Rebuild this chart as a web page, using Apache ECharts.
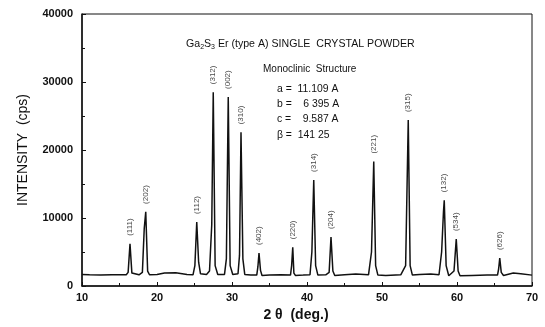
<!DOCTYPE html>
<html>
<head>
<meta charset="utf-8">
<script src="https://cdn.jsdelivr.net/npm/echarts@6/dist/echarts.min.js"></script>
<style>
  html, body { margin: 0; padding: 0; background: #fff; }
  #chart { width: 545px; height: 327px; }
</style>
</head>
<body>
<div id="chart"></div>
<script>
// scan profile (2theta in deg, intensity in cps)
var twoTheta = [10, 11, 12.5, 14, 15.9, 16.15, 16.4, 16.65, 16.9, 17.6, 18.05, 18.3, 18.5, 18.75, 19.0,
  20, 21, 22.5, 24, 24.8, 25.05, 25.3, 25.55, 25.8, 26.6, 27.0, 27.3, 27.5, 27.75, 28.1,
  29.0, 29.25, 29.5, 29.75, 30.1, 30.8, 31.0, 31.2, 31.45, 31.7, 32.5, 33.3, 33.45, 33.6, 33.8, 34.0,
  35, 36.5, 37.8, 37.95, 38.1, 38.25, 38.45, 39.5, 40.4, 40.65, 40.9, 41.15, 41.45, 42.5, 42.95, 43.2, 43.45, 43.7,
  45, 46.5, 48.2, 48.6, 48.9, 49.15, 49.45, 50.5, 52.5, 53.15, 53.5, 53.75, 54.05, 55, 56.5,
  57.6, 57.95, 58.2, 58.3, 58.55, 58.9, 59.6, 59.9, 60.15, 60.4, 62, 64, 65.4, 65.55, 65.7, 65.9, 66.2, 67.5, 68.5, 70];
var intensity = [1700, 1650, 1600, 1650, 1650, 2000, 6200, 1900, 1650, 1650, 2000, 8500, 10900, 2200, 1650,
  1700, 1900, 1950, 1700, 1650, 3000, 9400, 3500, 1800, 1700, 2200, 9000, 28500, 3000, 1700,
  1700, 4000, 27800, 3000, 1700, 1800, 4500, 22600, 4000, 1700, 1600, 1600, 2800, 4850, 2300, 1550,
  1600, 1650, 1600, 3000, 5700, 1900, 1550, 1600, 1650, 5000, 15600, 3000, 1600, 1650, 2000, 7200, 2200, 1550,
  1650, 1750, 1650, 5000, 18300, 3000, 1600, 1550, 1650, 3000, 24400, 3000, 1600, 1700, 1750,
  1650, 5000, 11000, 12600, 3000, 1500, 2200, 6900, 2200, 1500, 1550, 1600, 1600, 2500, 4100, 2000, 1550, 1900, 1800, 1600];

// indexed reflections
var peakPos = [16.4, 18.5, 25.3, 27.5, 29.5, 31.2, 33.6, 38.1, 40.9, 43.2, 48.9, 53.5, 58.3, 59.9, 65.7];
var peakHeight = [6200, 10900, 9400, 28500, 27800, 22600, 4850, 5700, 15600, 7200, 18300, 24400, 12600, 6900, 4100];
var peakHkl = ['(111)', '(202)', '(112)', '(312)', '(002)', '(310)', '(402)', '(220)', '(314)', '(204)',
  '(221)', '(315)', '(132)', '(534)', '(626)'];

var cellLines = ['a =  11.109 A', 'b =    6 395 A', 'c =    9.587 A', '\u03b2 =  141 25'];

var FONT = '"Liberation Sans", Arial, Helvetica, sans-serif';

var chart = echarts.init(document.getElementById('chart'));

var profile = twoTheta.map(function (x, i) { return [x, intensity[i]]; });
var peaks = peakPos.map(function (x, i) { return [x, peakHeight[i]]; });

var graphics = [
  {
    type: 'text', left: 186, top: 39,
    style: {
      text: 'Ga{s|2}S{s|3} Er (type A) SINGLE  CRYSTAL POWDER',
      font: '10.6px ' + FONT, fill: '#111',
      rich: { s: { fontSize: 7, fontFamily: FONT, verticalAlign: 'bottom', padding: [6, 0, 0, 0] } }
    }
  },
  { type: 'text', left: 263, top: 64, style: { text: 'Monoclinic  Structure', font: '10px ' + FONT, fill: '#111' } }
];
cellLines.forEach(function (t, i) {
  graphics.push({ type: 'text', left: 277, top: 84 + i * 15.3, style: { text: t, font: '10.4px ' + FONT, fill: '#111' } });
});

chart.setOption({
  animation: false,
  grid: { left: 82, right: 13, top: 14, bottom: 41, show: true, borderColor: '#111', borderWidth: 1 },
  xAxis: {
    type: 'value', min: 10, max: 70, interval: 10,
    name: '2 \u03b8  (deg.)', nameLocation: 'middle', nameGap: 22,
    nameTextStyle: { fontFamily: FONT, fontSize: 14, fontWeight: 'bold', color: '#111', padding: [0, 22, 0, 0] },
    axisLine: { lineStyle: { color: '#111', width: 1.5 } },
    axisTick: { inside: true, length: 4, lineStyle: { color: '#111' } },
    minorTick: { show: true, splitNumber: 2, length: 3, lineStyle: { color: '#111' } },
    axisLabel: { fontFamily: FONT, fontSize: 11, fontWeight: 'bold', color: '#111', margin: 6 },
    splitLine: { show: false }
  },
  yAxis: {
    type: 'value', min: 0, max: 40000, interval: 10000,
    name: 'INTENSITY  (cps)', nameLocation: 'middle', nameGap: 52,
    nameTextStyle: { fontFamily: FONT, fontSize: 14, color: '#111' },
    axisLine: { show: true, lineStyle: { color: '#111', width: 1.5 } },
    axisTick: { show: true, inside: true, length: 4, lineStyle: { color: '#111' } },
    minorTick: { show: true, splitNumber: 2, length: 3, lineStyle: { color: '#111' } },
    axisLabel: {
      fontFamily: FONT, fontSize: 11, fontWeight: 'bold', color: '#111', margin: 9,
      formatter: function (v) { return String(v); }
    },
    splitLine: { show: false }
  },
  graphic: graphics,
  series: [
    {
      type: 'line', data: profile, showSymbol: false, silent: true,
      lineStyle: { color: '#111', width: 1.5 }
    },
    {
      type: 'scatter', data: peaks, symbolSize: 0, silent: true,
      label: {
        show: true, position: 'top', distance: 8, rotate: 90,
        align: 'left', verticalAlign: 'middle',
        fontFamily: FONT, fontSize: 8, color: '#111',
        formatter: function (p) { return peakHkl[p.dataIndex]; }
      }
    }
  ]
});
</script>
</body>
</html>
